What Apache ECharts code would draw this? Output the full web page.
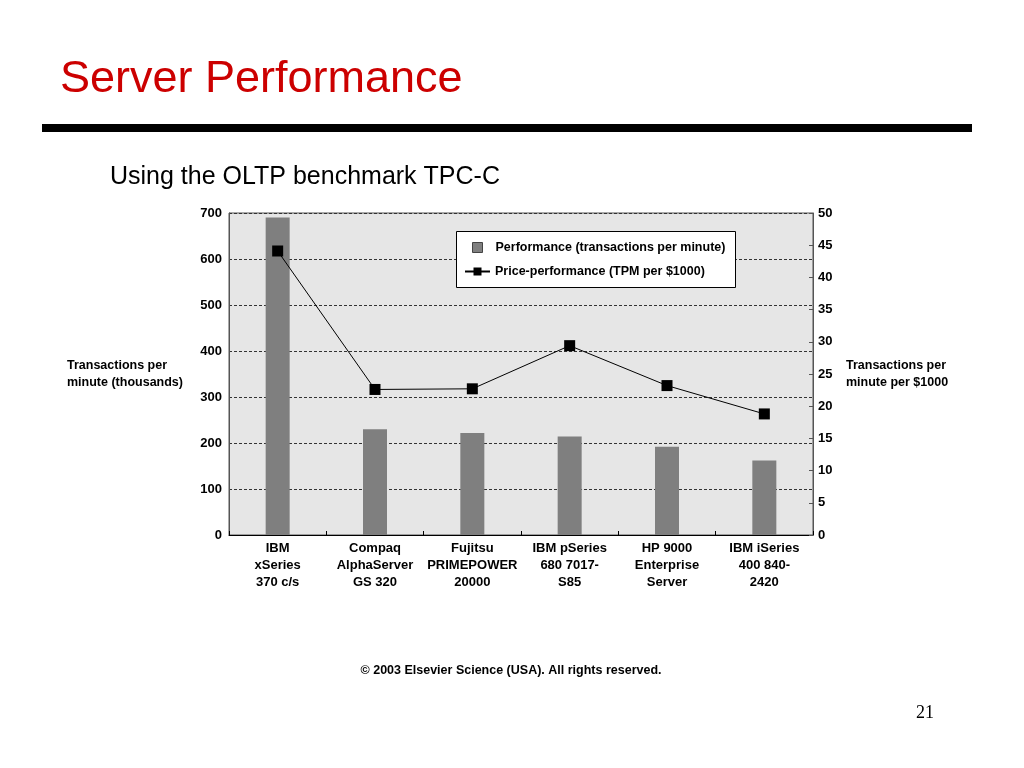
<!DOCTYPE html>
<html>
<head>
<meta charset="utf-8">
<script src="https://cdn.jsdelivr.net/npm/echarts@6/dist/echarts.min.js"></script>
<style>
html,body{margin:0;padding:0;background:#fff;}
#c{width:1024px;height:768px;}
</style>
</head>
<body>
<div id="c"></div>
<script>
const categories = [
  "IBM\nxSeries\n370 c/s",
  "Compaq\nAlphaServer\nGS 320",
  "Fujitsu\nPRIMEPOWER\n20000",
  "IBM pSeries\n680 7017-\nS85",
  "HP 9000\nEnterprise\nServer",
  "IBM iSeries\n400 840-\n2420"
];
const performance = [690, 230, 222, 214, 192, 162];
const pricePerformance = [44.1, 22.6, 22.7, 29.4, 23.2, 18.8];
const leftTicks = { min: 0, max: 700, interval: 100 };
const rightTicks = { min: 0, max: 50, interval: 5 };

const font = 'Liberation Sans, Arial, Helvetica, sans-serif';
const chart = echarts.init(document.getElementById('c'));
chart.setOption({
  animation: false,
  backgroundColor: '#fff',
  textStyle: { fontFamily: font },
  grid: {
    left: 229, right: 211, top: 213, bottom: 233,
    show: true, backgroundColor: '#e6e6e6', borderColor: '#555', borderWidth: 1
  },
  legend: [
    {
      data: [{ name: 'Performance (transactions per minute)', icon: 'rect' }],
      left: 472, top: 241, itemWidth: 10, itemHeight: 10, padding: 0,
      itemStyle: { borderColor: '#444', borderWidth: 1 },
      textStyle: { fontFamily: font, fontWeight: 'bold', fontSize: 12.5, color: '#000', padding: [0, 0, 0, 8] },
      z: 6
    },
    {
      data: ['Price-performance (TPM per $1000)'],
      left: 464, top: 265, itemWidth: 25, itemHeight: 10, padding: 0,
      textStyle: { fontFamily: font, fontWeight: 'bold', fontSize: 12.5, color: '#000' },
      z: 6
    }
  ],
  xAxis: {
    type: 'category',
    data: categories,
    axisLine: { lineStyle: { color: '#000', width: 1 } },
    axisTick: { show: true, inside: true, length: 4, lineStyle: { color: '#000' } },
    axisLabel: {
      color: '#000', fontWeight: 'bold', fontSize: 13, lineHeight: 17,
      margin: 5, interval: 0, fontFamily: font
    }
  },
  yAxis: [
    {
      type: 'value', min: leftTicks.min, max: leftTicks.max, interval: leftTicks.interval,
      name: 'Transactions per\nminute (thousands)',
      nameLocation: 'middle', nameRotate: 0, nameGap: 162,
      nameTextStyle: { align: 'left', color: '#000', fontWeight: 'bold', fontSize: 12.5, lineHeight: 17, fontFamily: font },
      axisLine: { show: true, lineStyle: { color: '#555' } },
      axisTick: { show: false },
      axisLabel: { color: '#000', fontWeight: 'bold', fontSize: 13, margin: 7, fontFamily: font },
      splitLine: { show: true, lineStyle: { color: '#333', type: [3, 2], width: 1 } }
    },
    {
      type: 'value', min: rightTicks.min, max: rightTicks.max, interval: rightTicks.interval,
      position: 'right',
      name: 'Transactions per\nminute per $1000',
      nameLocation: 'middle', nameRotate: 0, nameGap: 33,
      nameTextStyle: { align: 'left', color: '#000', fontWeight: 'bold', fontSize: 12.5, lineHeight: 17, fontFamily: font },
      axisLine: { show: true, lineStyle: { color: '#555' } },
      axisTick: { show: true, inside: true, length: 4, lineStyle: { color: '#555' } },
      axisLabel: { color: '#000', fontWeight: 'bold', fontSize: 13, margin: 5, fontFamily: font },
      splitLine: { show: false }
    }
  ],
  series: [
    {
      name: 'Performance (transactions per minute)',
      type: 'bar', yAxisIndex: 0, data: performance, barWidth: 24,
      itemStyle: { color: '#7f7f7f' }
    },
    {
      name: 'Price-performance (TPM per $1000)',
      type: 'line', yAxisIndex: 1, data: pricePerformance,
      symbol: 'rect', symbolSize: 11,
      lineStyle: { color: '#000', width: 1 },
      itemStyle: { color: '#000' }
    }
  ],
  graphic: [
    { type: 'text', left: 60, top: 57, z: 10,
      style: { text: 'Server Performance', fill: '#cc0000', font: '45px ' + font } },
    { type: 'rect', shape: { x: 42, y: 124, width: 930, height: 8 }, style: { fill: '#000' }, z: 10 },
    { type: 'text', left: 110, top: 165, z: 10,
      style: { text: 'Using the OLTP benchmark TPC-C', fill: '#000', font: '25px ' + font } },
    { type: 'rect', shape: { x: 456.5, y: 231.5, width: 279, height: 56 },
      style: { fill: '#fff', stroke: '#000', lineWidth: 1 }, z: 5 },
    { type: 'text', x: 511, y: 671, z: 10,
      style: { text: '© 2003 Elsevier Science (USA). All rights reserved.', fill: '#000',
        font: 'bold 12.5px ' + font, textAlign: 'center', textVerticalAlign: 'middle' } },
    { type: 'text', x: 925, y: 713, z: 10,
      style: { text: '21', fill: '#000', font: '18px "Liberation Serif", "Times New Roman", serif',
        textAlign: 'center', textVerticalAlign: 'middle' } }
  ]
});
</script>
</body>
</html>
